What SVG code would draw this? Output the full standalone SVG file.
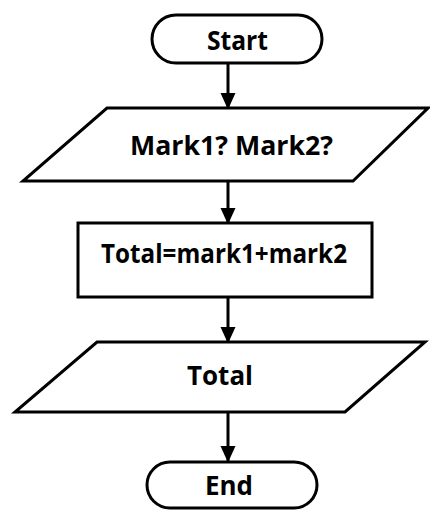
<svg xmlns="http://www.w3.org/2000/svg" width="430" height="510" viewBox="0 0 430 510">
<defs>
<marker id="ah" markerWidth="5" markerHeight="5.5" refX="5" refY="2.5" orient="auto" markerUnits="strokeWidth">
<path d="M0,0 L5.5,2.5 L0,5 Z" fill="#000"/>
</marker>
<style>
.shape{fill:#fff;stroke:#000;stroke-width:3;}
.lbl{font-family:"Open Sans","Liberation Sans",sans-serif;font-weight:bold;font-size:27px;fill:#000;}
.conn{stroke:#000;stroke-width:3;fill:none;marker-end:url(#ah);}
</style>
</defs>
<rect width="430" height="510" fill="#fff"/>
<g id="connectors">
<line class="conn" x1="228" y1="63" x2="228" y2="108"/>
<line class="conn" x1="228" y1="181" x2="228" y2="223"/>
<line class="conn" x1="228" y1="297" x2="228" y2="342"/>
<line class="conn" x1="228" y1="412" x2="228" y2="461"/>
</g>
<g id="start">
<rect class="shape" x="152" y="15" width="170" height="48" rx="24"/>
<text class="lbl" x="207" y="50" textLength="61" lengthAdjust="spacingAndGlyphs">Start</text>
</g>
<g id="input">
<polygon class="shape" points="107,108 428,108 353,181 23,181"/>
<text class="lbl" x="130" y="155" textLength="203" lengthAdjust="spacingAndGlyphs">Mark1? Mark2?</text>
</g>
<g id="process">
<rect class="shape" x="78" y="223" width="294" height="74"/>
<text class="lbl" x="101" y="263" textLength="246" lengthAdjust="spacingAndGlyphs">Total=mark1+mark2</text>
</g>
<g id="output">
<polygon class="shape" points="97,342 425,342 345,412 15,412"/>
<text class="lbl" x="187" y="385" textLength="66" lengthAdjust="spacingAndGlyphs">Total</text>
</g>
<g id="end">
<rect class="shape" x="147" y="462" width="170" height="46" rx="23"/>
<text class="lbl" x="205" y="495" textLength="48" lengthAdjust="spacingAndGlyphs">End</text>
</g>
</svg>
